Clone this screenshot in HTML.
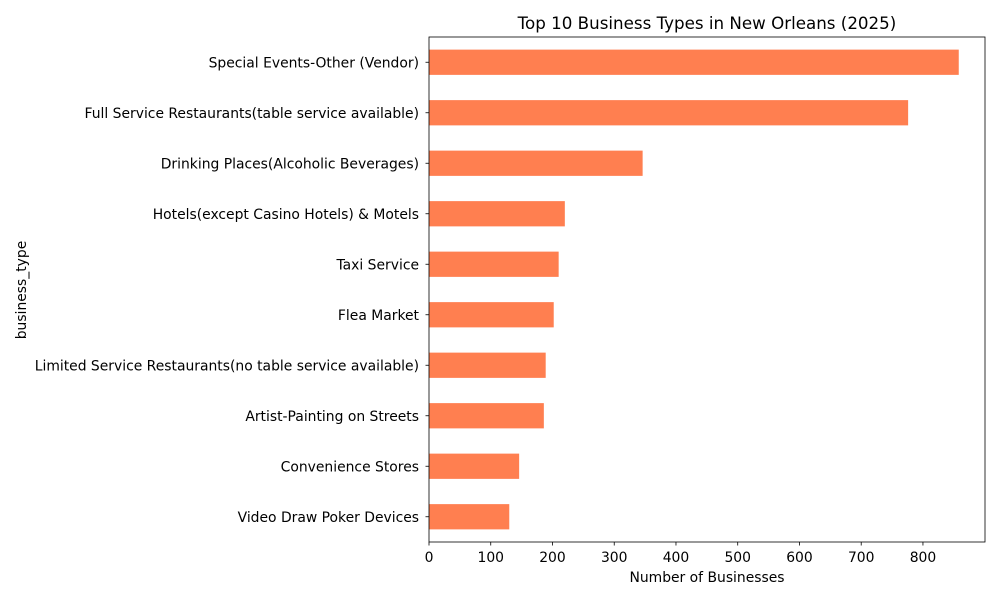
<!DOCTYPE html>
<html><head><meta charset="utf-8"><style>
body{margin:0;background:#fff;font-family:"DejaVu Sans","Liberation Sans",sans-serif;}
</style></head><body>
<svg width="1000" height="600" xmlns="http://www.w3.org/2000/svg" font-family="DejaVu Sans, Liberation Sans, sans-serif">
<rect width="1000" height="600" fill="#fff"/>
<g id="bars"></g><g id="axes"></g>
</svg>
<script>
const categories=["Special Events-Other (Vendor)","Full Service Restaurants(table service available)","Drinking Places(Alcoholic Beverages)","Hotels(except Casino Hotels) & Motels","Taxi Service","Flea Market","Limited Service Restaurants(no table service available)","Artist-Painting on Streets","Convenience Stores","Video Draw Poker Devices"];
const values=[858,776,346,220,210,202,189,186,146,130];
const ticks=[0,100,200,300,400,500,600,700,800];
const L=429,R=985,T=37,B=542,XMAX=900.5;
const x=v=>L+v/XMAX*(R-L);
const step=(B-T)/categories.length;
const y=i=>T+step*(i+0.5);
const NS="http://www.w3.org/2000/svg";
const svg=document.querySelector('svg');
function mk(t,a,p){const e=document.createElementNS(NS,t);for(const k in a)e.setAttribute(k,a[k]);(p||svg).appendChild(e);return e;}
const bars=document.getElementById('bars'),axes=document.getElementById('axes');
categories.forEach((c,i)=>{
 const r=mk('rect',{x:L,y:y(i)-step*0.25,width:x(values[i])-L,height:step*0.5,fill:'#ff7f50'},bars);
 
 
 mk('line',{x1:L-3.5,x2:L,y1:y(i),y2:y(i),stroke:'#000','stroke-width':0.8},axes);
 const t=mk('text',{x:L-10,y:y(i)+5,'text-anchor':'end','font-size':13.9,fill:'#000'},axes);
 t.textContent=c;
 
 
});
ticks.forEach(v=>{
 mk('line',{x1:x(v),x2:x(v),y1:B,y2:B+3.5,stroke:'#000','stroke-width':0.8},axes);
 const t=mk('text',{x:x(v),y:B+20,'text-anchor':'middle','font-size':13.9,fill:'#000'},axes);
 t.textContent=v;
 
 
});
const fr=mk('rect',{x:L,y:T,width:R-L,height:B-T,fill:'none',stroke:'#000','stroke-width':0.8},axes);


const tt=mk('text',{x:(L+R)/2,y:29,'text-anchor':'middle','font-size':16.7,fill:'#000'},axes);
tt.textContent='Top 10 Business Types in New Orleans (2025)';


const xt=mk('text',{x:(L+R)/2,y:582,'text-anchor':'middle','font-size':13.9,fill:'#000'},axes);
xt.textContent='Number of Businesses';


const yt=mk('text',{x:0,y:0,'text-anchor':'middle','font-size':13.9,fill:'#000',transform:'translate(26,290) rotate(-90)'},axes);
yt.textContent='business_type';


</script>
</body></html>
